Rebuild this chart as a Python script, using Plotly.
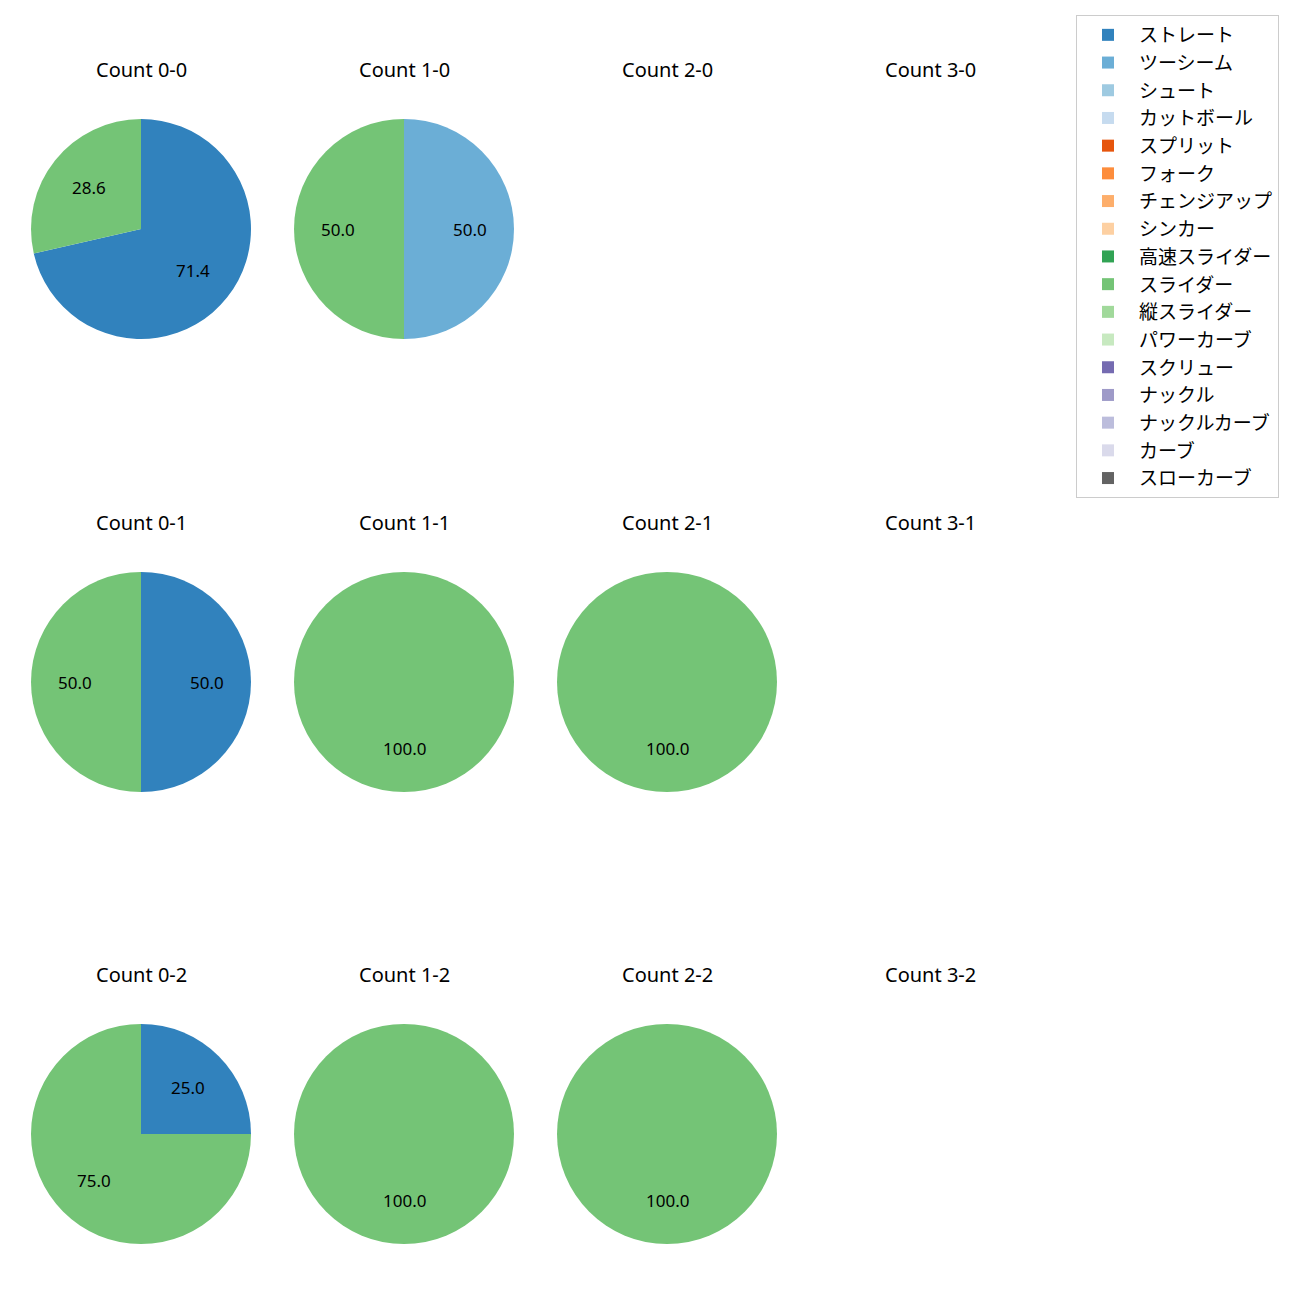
import math
import plotly.graph_objects as go

pitch_types = ["ストレート", "ツーシーム", "シュート", "カットボール", "スプリット", "フォーク",
               "チェンジアップ", "シンカー", "高速スライダー", "スライダー", "縦スライダー",
               "パワーカーブ", "スクリュー", "ナックル", "ナックルカーブ", "カーブ", "スローカーブ"]
colors = ["#3182bd", "#6baed6", "#9ecae1", "#c6dbef", "#e6550d", "#fd8d3c", "#fdae6b",
          "#fdd0a2", "#31a354", "#74c476", "#a1d99b", "#c7e9c0", "#756bb1", "#9e9ac8",
          "#bcbddc", "#dadaeb", "#636363"]

# counts per (balls, strikes): {pitch type: count}
count_0_0 = {"ストレート": 5, "スライダー": 2}
count_1_0 = {"ツーシーム": 1, "スライダー": 1}
count_0_1 = {"ストレート": 1, "スライダー": 1}
count_1_1 = {"スライダー": 1}
count_2_1 = {"スライダー": 1}
count_0_2 = {"ストレート": 1, "スライダー": 3}
count_1_2 = {"スライダー": 1}
count_2_2 = {"スライダー": 1}

panels = {
    (0, 0): count_0_0, (1, 0): count_1_0, (2, 0): None, (3, 0): None,
    (0, 1): count_0_1, (1, 1): count_1_1, (2, 1): count_2_1, (3, 1): None,
    (0, 2): count_0_2, (1, 2): count_1_2, (2, 2): count_2_2, (3, 2): None,
}

W, H = 1300, 1300
OFF = 8  # page body margin
col_cx = [141 - OFF, 404 - OFF, 667 - OFF, 930 - OFF]
row_cy = [229 - OFF, 682 - OFF, 1134 - OFF]
R = 110
FONT = "Noto Sans, Noto Sans CJK JP"

fig = go.Figure()
annotations = []
first = True
for (b, s), data in panels.items():
    cx, cy = col_cx[b], row_cy[s]
    annotations.append(dict(x=cx / W, y=1 - (cy - 160) / H, xref="paper", yref="paper",
                            xanchor="center", yanchor="middle",
                            text=f"Count {b}-{s}", showarrow=False,
                            font=dict(size=20, color="black", family=FONT)))
    if data is None:
        continue
    if first:
        labels = pitch_types
        vals = [data.get(p, 0) for p in pitch_types]
        cols = colors
        first = False
    else:
        labels = [p for p in pitch_types if p in data]
        vals = [data[p] for p in labels]
        cols = [colors[pitch_types.index(p)] for p in labels]
    fig.add_trace(go.Pie(labels=labels, values=vals, marker=dict(colors=cols),
                         sort=False, direction="clockwise", rotation=0,
                         textinfo="none", hoverinfo="label+percent",
                         domain=dict(x=[(cx - R) / W, (cx + R) / W],
                                     y=[1 - (cy + R) / H, 1 - (cy - R) / H])))
    total = sum(vals)
    cum = 0
    for v in vals:
        if v == 0:
            continue
        theta = 2 * math.pi * (cum + v / 2) / total
        cum += v
        tx = cx + 0.6 * R * math.sin(theta)
        ty = cy - 0.6 * R * math.cos(theta)
        annotations.append(dict(x=tx / W, y=1 - ty / H, xref="paper", yref="paper",
                                xanchor="center", yanchor="middle",
                                text=f"{100 * v / total:.1f}", showarrow=False,
                                font=dict(size=17, color="black", family=FONT)))

fig.update_layout(
    width=W, height=H,
    margin=dict(l=0, r=0, t=0, b=0),
    paper_bgcolor="white", plot_bgcolor="white",
    font=dict(family=FONT, size=16, color="black"),
    annotations=annotations,
    legend=dict(x=(1076 - OFF) / W, y=1 - (15 - OFF) / H, xanchor="left", yanchor="top",
                bordercolor="#cccccc", borderwidth=1, bgcolor="white",
                font=dict(size=19, family=FONT), traceorder="normal", itemwidth=52),
    showlegend=True,
)
fig.write_html("out.html")
